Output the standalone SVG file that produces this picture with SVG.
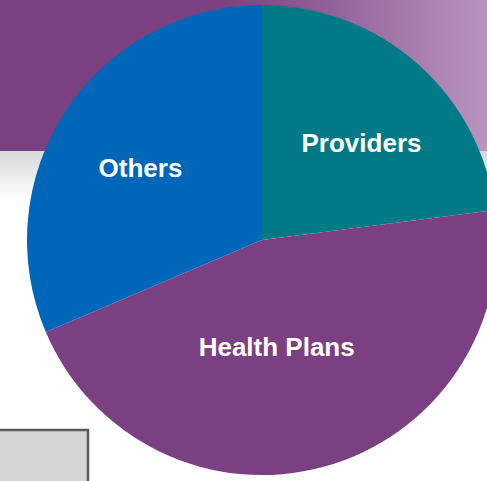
<svg xmlns="http://www.w3.org/2000/svg" width="487" height="481" viewBox="0 0 487 481">
  <defs>
    <linearGradient id="banner" x1="0" y1="0" x2="487" y2="0" gradientUnits="userSpaceOnUse">
      <stop offset="0" stop-color="#7B4080"/>
      <stop offset="0.47" stop-color="#7C4181"/>
      <stop offset="1" stop-color="#B894BF"/>
    </linearGradient>
    <linearGradient id="band" x1="0" y1="151" x2="0" y2="200" gradientUnits="userSpaceOnUse">
      <stop offset="0" stop-color="#D8D8D8"/>
      <stop offset="1" stop-color="#FFFFFF"/>
    </linearGradient>
    <style>
      .lbl { font-family: "Liberation Sans", Arial, sans-serif; font-weight: bold; font-size: 26px; fill: #FFFFFF; text-anchor: middle; }
    </style>
  </defs>
  <rect x="0" y="0" width="487" height="481" fill="#FFFFFF"/>
  <rect x="0" y="0" width="487" height="151" fill="url(#banner)"/>
  <rect x="0" y="151" width="487" height="50" fill="url(#band)"/>
  <g id="box">
    <rect x="-2" y="430" width="90" height="55" fill="#D5D5D5" stroke="#5A5A5A" stroke-width="2.5"/>
  </g>
  <g id="slice-providers">
    <path d="M262,240 L262,5 A235,235 0 0 1 495.1,210 Z" fill="#007A86"/>
    <text class="lbl" x="361.5" y="152.3">Providers</text>
  </g>
  <g id="slice-health-plans">
    <path d="M262,240 L495.1,210 A235,235 0 0 1 45.8,332.1 Z" fill="#7B4081"/>
    <text class="lbl" x="276.7" y="356">Health Plans</text>
  </g>
  <g id="slice-others">
    <path d="M262,240 L45.8,332.1 A235,235 0 0 1 262,5 Z" fill="#0066B8"/>
    <text class="lbl" x="140.5" y="176.7">Others</text>
  </g>
  <g id="connectors"></g>
</svg>
